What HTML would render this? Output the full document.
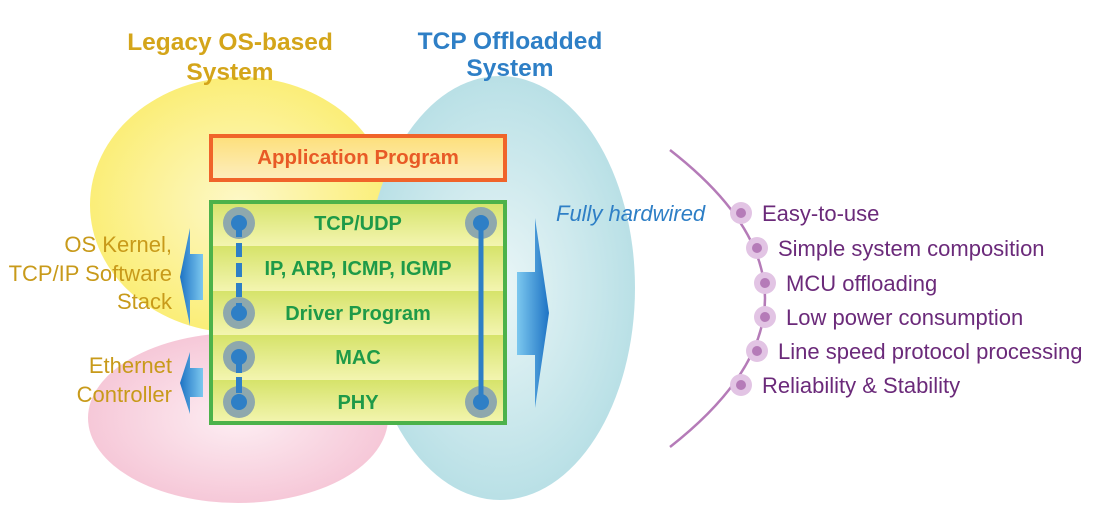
<!DOCTYPE html>
<html><head><meta charset="utf-8"><style>
body{margin:0;background:#fff}
svg{display:block}
text{font-family:"Liberation Sans",sans-serif}
</style></head><body>
<svg width="1097" height="517" viewBox="0 0 1097 517">
<defs>
<radialGradient id="gy" cx="0.5" cy="0.5" r="0.5"><stop offset="0" stop-color="#fdf8c8"/><stop offset="1" stop-color="#fbee78"/></radialGradient>
<radialGradient id="gp" cx="0.5" cy="0.5" r="0.5"><stop offset="0" stop-color="#fdeef3"/><stop offset="1" stop-color="#f6c8d8"/></radialGradient>
<radialGradient id="gc" cx="0.5" cy="0.5" r="0.5"><stop offset="0" stop-color="#eaf6f7"/><stop offset="1" stop-color="#b9e0e6"/></radialGradient>
<linearGradient id="ga" x1="0" y1="0" x2="0" y2="1"><stop offset="0" stop-color="#fddf7a"/><stop offset="1" stop-color="#fdeebf"/></linearGradient>
<linearGradient id="gr" x1="0" y1="0" x2="0" y2="1"><stop offset="0" stop-color="#d6e36a"/><stop offset="1" stop-color="#f3f5b0"/></linearGradient>
<linearGradient id="gar" x1="0" y1="0" x2="1" y2="0"><stop offset="0" stop-color="#7cc8ef"/><stop offset="1" stop-color="#1e73c4"/></linearGradient>
<linearGradient id="gal" x1="1" y1="0" x2="0" y2="0"><stop offset="0" stop-color="#7cc8ef"/><stop offset="1" stop-color="#1e73c4"/></linearGradient>
</defs>
<ellipse cx="240" cy="205" rx="150" ry="128" fill="url(#gy)"/>
<ellipse cx="238" cy="418" rx="150" ry="85" fill="url(#gp)"/>
<ellipse cx="500" cy="288" rx="135" ry="212" fill="url(#gc)"/>
<text x="230" y="50" font-size="24.5" font-weight="bold" fill="#d4a51a" text-anchor="middle">Legacy OS-based</text>
<text x="230" y="80" font-size="24.5" font-weight="bold" fill="#d4a51a" text-anchor="middle">System</text>
<text x="510" y="49" font-size="24.5" font-weight="bold" fill="#2e7fc6" text-anchor="middle">TCP Offloadded</text>
<text x="510" y="76" font-size="24.5" font-weight="bold" fill="#2e7fc6" text-anchor="middle">System</text>
<rect x="211" y="136" width="294" height="44" fill="url(#ga)" stroke="#f0642a" stroke-width="4"/>
<text x="358" y="164" font-size="20.5" font-weight="bold" fill="#e85a26" text-anchor="middle">Application Program</text>
<g>
<rect x="211" y="202" width="294" height="44" fill="url(#gr)"/>
<rect x="211" y="246" width="294" height="45" fill="url(#gr)"/>
<rect x="211" y="291" width="294" height="44" fill="url(#gr)"/>
<rect x="211" y="335" width="294" height="45" fill="url(#gr)"/>
<rect x="211" y="380" width="294" height="43" fill="url(#gr)"/>
</g>
<rect x="211" y="202" width="294" height="221" fill="none" stroke="#4cb24a" stroke-width="4"/>
<g font-size="20" font-weight="bold" fill="#1e9a48" text-anchor="middle">
<text x="358" y="230">TCP/UDP</text>
<text x="358" y="275">IP, ARP, ICMP, IGMP</text>
<text x="358" y="320">Driver Program</text>
<text x="358" y="364">MAC</text>
<text x="358" y="409">PHY</text>
</g>
<g fill="#8ea8ad">
<circle cx="239" cy="223" r="16"/><circle cx="239" cy="313" r="16"/><circle cx="239" cy="357" r="16"/><circle cx="239" cy="402" r="16"/>
<circle cx="481" cy="223" r="16"/><circle cx="481" cy="402" r="16"/>
</g>
<line x1="239" y1="223" x2="239" y2="313" stroke="#2e7fc6" stroke-width="6" stroke-dasharray="14,6"/>
<line x1="239" y1="357" x2="239" y2="402" stroke="#2e7fc6" stroke-width="6" stroke-dasharray="16,4"/>
<line x1="481" y1="223" x2="481" y2="402" stroke="#2e7fc6" stroke-width="5"/>
<g fill="#2e7fc6">
<circle cx="239" cy="223" r="8"/><circle cx="239" cy="313" r="8"/><circle cx="239" cy="357" r="8"/><circle cx="239" cy="402" r="8"/>
<circle cx="481" cy="223" r="8"/><circle cx="481" cy="402" r="8"/>
</g>
<polygon points="203,254 190,254 190,228 180,277 190,326 190,300 203,300" fill="url(#gal)"/>
<polygon points="203,368 190,368 190,352 180,383 190,414 190,397 203,397" fill="url(#gal)"/>
<polygon points="517,272 535,272 535,218 549,313 535,408 535,355 517,355" fill="url(#gar)"/>
<g font-size="22" fill="#c89a1a" text-anchor="end">
<text x="172" y="252">OS Kernel,</text>
<text x="172" y="281">TCP/IP Software</text>
<text x="172" y="309">Stack</text>
<text x="172" y="373">Ethernet</text>
<text x="172" y="402">Controller</text>
</g>
<text x="556" y="221" font-size="22" font-style="italic" fill="#2e7fc6">Fully hardwired</text>
<path d="M670,150 Q860,298 670,447" fill="none" stroke="#b57bb8" stroke-width="2.5"/>
<g fill="#e2c4e4">
<circle cx="741" cy="213" r="11"/><circle cx="757" cy="248" r="11"/><circle cx="765" cy="283" r="11"/><circle cx="765" cy="317" r="11"/><circle cx="757" cy="351" r="11"/><circle cx="741" cy="385" r="11"/>
</g>
<g fill="#b57bb8">
<circle cx="741" cy="213" r="5"/><circle cx="757" cy="248" r="5"/><circle cx="765" cy="283" r="5"/><circle cx="765" cy="317" r="5"/><circle cx="757" cy="351" r="5"/><circle cx="741" cy="385" r="5"/>
</g>
<g font-size="22" fill="#6b2a7a">
<text x="762" y="221">Easy-to-use</text>
<text x="778" y="256">Simple system composition</text>
<text x="786" y="291">MCU offloading</text>
<text x="786" y="325">Low power consumption</text>
<text x="778" y="359">Line speed protocol processing</text>
<text x="762" y="393">Reliability &amp; Stability</text>
</g>
</svg>
</body></html>
